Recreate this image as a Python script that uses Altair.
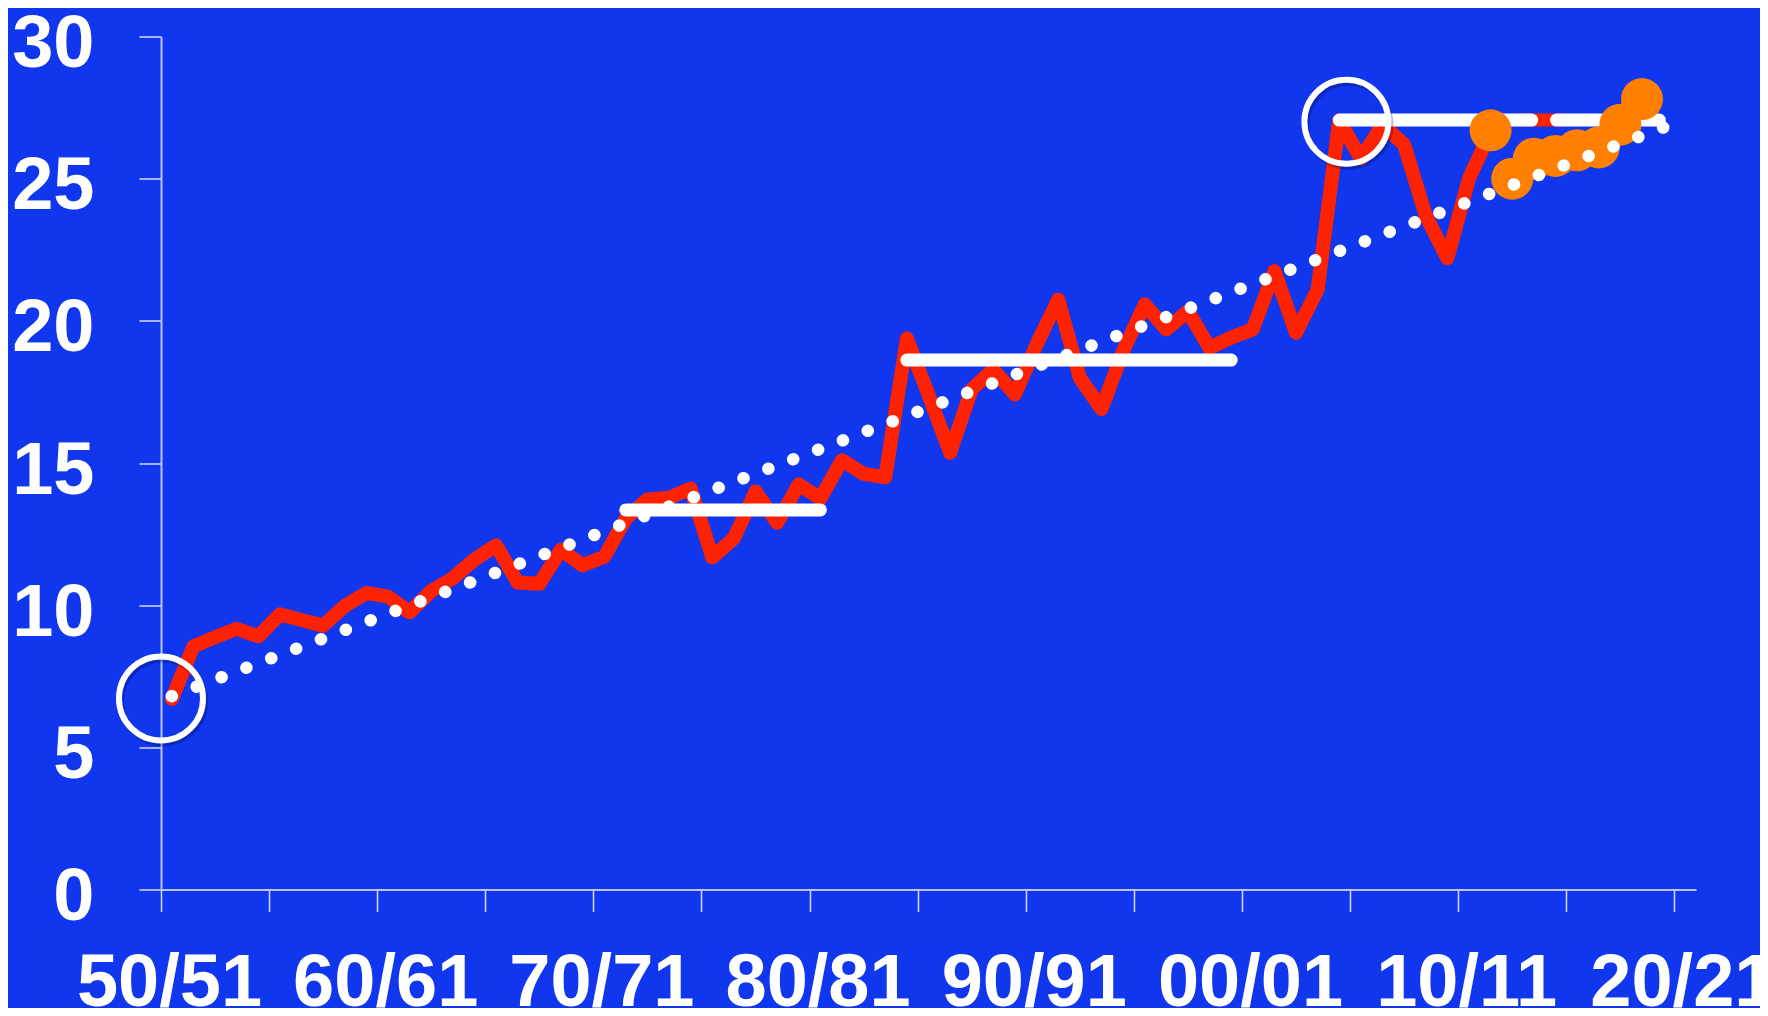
import altair as alt
import pandas as pd

# ---- data ----
first_season = 1950  # season 50/51
red_values = [6.70, 8.55, 8.87, 9.17, 8.90, 9.68, 9.48, 9.28, 9.97, 10.43,
              10.30, 9.75, 10.50, 10.95, 11.60, 12.10, 10.80, 10.75, 11.95, 11.40,
              11.70, 13.05, 13.72, 13.78, 14.10, 11.68, 12.35, 14.00, 12.90, 14.25,
              13.75, 15.10, 14.62, 14.50, 19.38, 17.40, 15.36, 17.59, 18.29, 17.41,
              19.17, 20.75, 18.00, 16.90, 18.93, 20.58, 19.70, 20.34, 19.05, 19.41,
              19.70, 21.75, 19.58, 21.10, 27.05, 25.70, 26.90, 26.20, 23.70, 22.20,
              25.00, 26.65]
orange_start = 2011
orange_values = [26.70, 25.00, 25.70, 25.80, 26.00, 26.10, 26.90, 27.80]

trend_years = [1950.5, 2019.7]
trend_values = [6.80, 26.86]

bar_start = [1971.5, 1984.5, 2004.5, 2014.55]
bar_end = [1980.5, 1999.5, 2013.4, 2019.3]
bar_level = [13.35, 18.62, 27.06, 27.06]

gap_start = [2012.8]
gap_end = [2015.0]
gap_level = [27.06]

ring_years = [1950.0, 2004.83]
ring_values = [6.72, 27.0]

tick_years = [1950, 1955, 1960, 1965, 1970, 1975, 1980, 1985, 1990, 1995,
              2000, 2005, 2010, 2015, 2020]
tick_labels = ["50/51", "", "60/61", "", "70/71", "", "80/81", "", "90/91", "",
               "00/01", "", "10/11", "", "20/21"]
y_ticks = [0, 5, 10, 15, 20, 25, 30]

# ---- tables ----
red_df = pd.DataFrame({"year": [first_season + 0.5 + i for i in range(len(red_values))],
                       "value": red_values})
orange_df = pd.DataFrame({"year": [orange_start + 0.5 + i for i in range(len(orange_values))],
                          "value": orange_values})
trend_df = pd.DataFrame({"year": trend_years, "value": trend_values})
bars_df = pd.DataFrame({"year": bar_start, "year2": bar_end, "value": bar_level})
gap_df = pd.DataFrame({"year": gap_start, "year2": gap_end, "value": gap_level})
ring_df = pd.DataFrame({"year": ring_years, "value": ring_values})

label_expr = ""
for yv, lab in zip(tick_years, tick_labels):
    label_expr += f"datum.value == {yv} ? '{lab}' : "
label_expr += "''"

FONT = "Liberation Sans"
x_axis = alt.Axis(values=tick_years, labelExpr=label_expr, title=None, grid=False,
                  labelOverlap=False, labelFlush=False, labelBound=False, labelLimit=0,
                  tickSize=22, labelPadding=36, labelOffset=8, labelFontSize=74)
y_axis = alt.Axis(values=y_ticks, title=None, grid=False, tickSize=22, labelLimit=0,
                  labelPadding=45, labelOffset=8, labelFontSize=74)

x_scale = alt.Scale(domain=[1950, 2021], nice=False, zero=False)
y_scale = alt.Scale(domain=[0, 30], nice=False)

X = alt.X("year:Q", scale=x_scale, axis=x_axis)
Y = alt.Y("value:Q", scale=y_scale, axis=y_axis)

red_line = alt.Chart(red_df).mark_line(
    color="#FF2200", strokeWidth=14, strokeJoin="round", strokeCap="round"
).encode(x=X, y=Y)

gap = alt.Chart(gap_df).mark_rule(color="#FF2200", strokeWidth=13).encode(
    x=X, x2="year2:Q", y=Y)

bars = alt.Chart(bars_df).mark_rule(
    color="white", strokeWidth=13, strokeCap="round"
).encode(x=X, x2="year2:Q", y=Y)

orange = alt.Chart(orange_df).mark_circle(
    color="#FF7F00", size=1764, opacity=1
).encode(x=X, y=Y)

trend = alt.Chart(trend_df).mark_line(
    color="white", strokeWidth=12.5, strokeCap="round", strokeDash=[0.1, 26.5]
).encode(x=X, y=Y)

ring_shadow = alt.Chart(ring_df).mark_point(
    shape="circle", filled=False, size=7056, strokeWidth=6,
    color="#000030", opacity=0.25, xOffset=2, yOffset=3
).encode(x=X, y=Y)

rings = alt.Chart(ring_df).mark_point(
    shape="circle", filled=False, size=7056, strokeWidth=6,
    color="white", opacity=1
).encode(x=X, y=Y)

chart = alt.layer(red_line, gap, bars, orange, trend, ring_shadow, rings).properties(
    width=1535, height=853,
    padding={"left": 153, "top": 28.5, "right": 64, "bottom": 118.5},
    autosize=alt.AutoSizeParams(type="none"),
    background="#1036EE",
).configure_view(stroke=None).configure_axis(
    domainColor="#B8C3F6", domainWidth=2,
    tickColor="#D5DCFA", tickWidth=1.5,
    labelFont=FONT, labelFontWeight="bold", labelColor="white",
)

chart.save("out.html", embed_options={"renderer": "svg", "actions": False})
